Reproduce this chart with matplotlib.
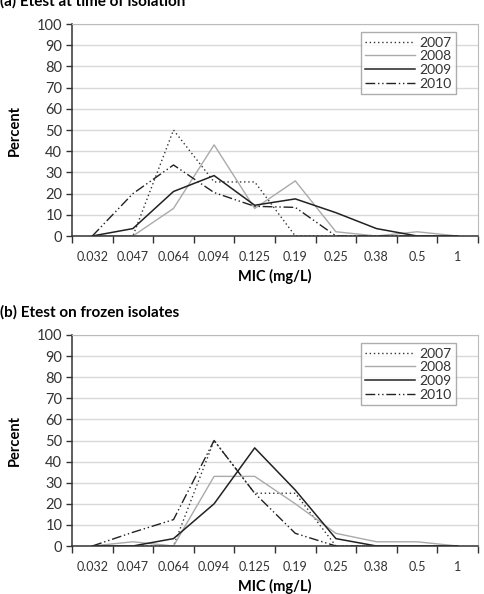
import numpy as np
import matplotlib.pyplot as plt

plt.rcParams['font.family'] = ['Lato', 'DejaVu Sans']

mic = ['0.032', '0.047', '0.064', '0.094', '0.125', '0.19', '0.25', '0.38', '0.5', '1']
years = ['2007', '2008', '2009', '2010']

# (a) Etest at time of isolation
a_2007 = [0, 0, 50, 25.5, 25.5, 0, 0, 0, 0, 0]
a_2008 = [0, 0, 13, 43, 13, 26, 2, 0, 2, 0]
a_2009 = [0, 3.5, 21, 28.5, 14.5, 17.5, 11, 3.5, 0, 0]
a_2010 = [0, 20, 33.5, 20.5, 14, 13.5, 0, 0, 0, 0]

# (b) Etest on frozen isolates
b_2007 = [0, 0, 0, 50, 25, 25, 0, 0, 0, 0]
b_2008 = [0, 2, 0, 33, 33, 20, 6, 2, 2, 0]
b_2009 = [0, 0, 3.5, 20, 46.5, 26.5, 3.5, 0, 0, 0]
b_2010 = [0, 6.5, 12.5, 50, 25, 6, 0, 0, 0, 0]

styles = [
    dict(color='#333333', linestyle=(0, (1, 2)), lw=1.0),
    dict(color='#aaaaaa', linestyle='-', lw=1.0),
    dict(color='#222222', linestyle='-', lw=1.1),
    dict(color='#222222', linestyle=(0, (7, 2, 1, 2, 1, 2)), lw=1.0),
]

fig = plt.figure(figsize=(4.84, 5.94), dpi=100)
W, H = 484, 594


def panel(ax, series, title):
    x = np.arange(len(mic))
    for s, yr, st in zip(series, years, styles):
        ax.plot(x, s, label=yr, **st)
    ax.set_xlim(-0.5, len(mic) - 0.5)
    ax.set_ylim(0, 100)
    ax.set_yticks(range(0, 101, 10))
    ax.set_xticks(x)
    ax.set_xticklabels(mic, fontsize=9, color='#333333')
    ax.set_xticks(np.arange(-0.5, len(mic), 1), minor=True)
    ax.tick_params(axis='x', which='major', length=0, pad=11)
    ax.tick_params(axis='x', which='minor', length=5, width=1, color='#333333', direction='out')
    ax.tick_params(axis='y', labelsize=10.5, colors='#333333', length=4, width=1, pad=3)
    ax.grid(axis='y', color='#d9d9d9', lw=1)
    ax.set_axisbelow(True)
    for side in ['top', 'right']:
        ax.spines[side].set_color('#bbbbbb')
    for side in ['left', 'bottom']:
        ax.spines[side].set_color('#333333')
        ax.spines[side].set_linewidth(1.1)
    ax.set_ylabel('Percent', fontsize=10.5, fontweight='bold', labelpad=11)
    ax.set_xlabel('MIC (mg/L)', fontsize=10.5, fontweight='bold', labelpad=4)
    leg = ax.legend(loc='upper right', bbox_to_anchor=(0.945, 0.96), fontsize=10,
                    frameon=True, fancybox=False, handlelength=3.6,
                    labelspacing=0.12, borderpad=0.3, handletextpad=0.3,
                    borderaxespad=0)
    leg.get_frame().set_edgecolor('#999999')
    leg.get_frame().set_linewidth(1)
    for t in leg.get_texts():
        t.set_color('#333333')
    fig.text(ax.get_position().x0 - 72 / W, ax.get_position().y1 + 15 / H, title,
             fontsize=11, fontweight='bold', va='bottom', ha='left')


ax1 = fig.add_axes([72 / W, 1 - 236 / H, 406 / W, 212 / H])
panel(ax1, [a_2007, a_2008, a_2009, a_2010], '(a) Etest at time of isolation')
ax2 = fig.add_axes([72 / W, 1 - 546 / H, 406 / W, 211 / H])
panel(ax2, [b_2007, b_2008, b_2009, b_2010], '(b) Etest on frozen isolates')

fig.savefig('out.png', dpi=100)
